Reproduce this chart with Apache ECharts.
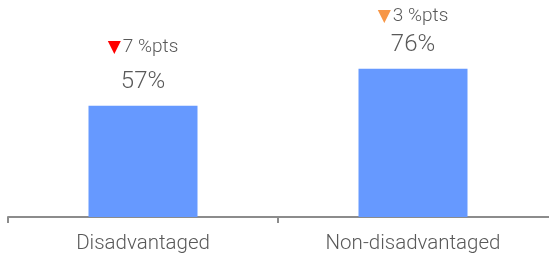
<!DOCTYPE html>
<html>
<head>
<meta charset="utf-8">
<script src="https://cdn.jsdelivr.net/npm/echarts@6/dist/echarts.min.js"></script>
<style>
  html, body { margin: 0; padding: 0; background: #fff; }
  #chart { width: 549px; height: 259px; }
</style>
</head>
<body>
<div id="chart"></div>
<script>
// 数据
const categories = ["Disadvantaged", "Non-disadvantaged"];
const values = [57, 76];
const changes = [7, 3]; // %pts change
const arrowStyles = ["red", "orange"];

const chart = echarts.init(document.getElementById("chart"));

// 每个柱子的标签行距略有不同
const changeGap = [43, 31];

// x 轴用数值轴: 每个类别占 1 个单位, 柱子在 0.5, 1.5
const barData = values.map((v, i) => ({
  value: [i + 0.5, v],
  label: {
    rich: {
      red: { color: "#ff0000", fontSize: 17, fontFamily: "DejaVu Sans", lineHeight: changeGap[i], padding: [0, 2, 0, 0] },
      orange: { color: "#f79646", fontSize: 17, fontFamily: "DejaVu Sans", lineHeight: changeGap[i], padding: [0, 2, 0, 0] },
      t: { color: "#595959", fontSize: 19, fontFamily: "Roboto", fontWeight: 300, lineHeight: changeGap[i] },
      v: { color: "#595959", fontSize: 24, fontFamily: "Roboto", fontWeight: 300, lineHeight: 26 },
    },
  },
}));

const option = {
  animation: false,
  grid: { left: 8, right: 0, top: 22, bottom: 42 },
  xAxis: {
    type: "value",
    min: 0,
    max: 541 / 270, // 轴线延伸到右边缘
    splitLine: { show: false },
    axisLine: { show: true, lineStyle: { color: "#8c8c8c", width: 2 } },
    axisTick: {
      show: true,
      length: 6,
      lineStyle: { color: "#8c8c8c", width: 2 },
      customValues: [0, 1],
    },
    axisLabel: {
      color: "#595959",
      fontSize: 20.5,
      fontFamily: "Roboto",
      fontWeight: 300,
      margin: 16,
      customValues: categories.map((c, i) => i + 0.5),
      formatter: (v) => categories[Math.floor(v)],
    },
  },
  yAxis: { type: "value", min: 0, max: 100, show: false },
  series: [
    {
      type: "bar",
      data: barData,
      barWidth: 109,
      itemStyle: { color: "#6699ff" },
      label: {
        show: true,
        position: "top",
        distance: 11,
        formatter: (p) =>
          "{" + arrowStyles[p.dataIndex] + "|▼}{t|" + changes[p.dataIndex] + " %pts}\n{v|" + p.value[1] + "%}",
      },
    },
  ],
};

chart.setOption(option);
</script>
</body>
</html>
